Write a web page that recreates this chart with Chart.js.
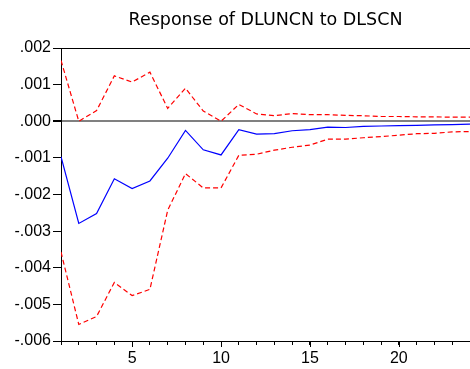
<!DOCTYPE html>
<html>
<head>
<meta charset="utf-8">
<script src="https://cdn.jsdelivr.net/npm/chart.js@4.4.1/dist/chart.umd.min.js"></script>
<style>
  html, body { margin: 0; padding: 0; background: #fff; overflow: hidden; }
  #wrap { width: 474px; height: 369px; }
</style>
</head>
<body>
<div id="wrap"><canvas id="c"></canvas></div>
<script>
const titleText = "Response of DLUNCN to DLSCN";
const periods = [1,2,3,4,5,6,7,8,9,10,11,12,13,14,15,16,17,18,19,20,21,22,23,24];
const response = [-0.00097,-0.00279,-0.00252,-0.00157,-0.00184,-0.00163,-0.00101,-0.00025,-0.00078,-0.00092,
                  -0.00023,-0.00035,-0.00034,-0.00026,-0.00023,-0.00016,-0.00017,-0.00014,-0.00013,-0.00012,
                  -0.00011,-0.00010,-0.00009,-0.00008];
const upperBand = [0.00166,0.00000,0.00029,0.00124,0.00107,0.00134,0.00035,0.00090,0.00028,0.00000,
                   0.00046,0.00020,0.00015,0.00021,0.00018,0.00018,0.00016,0.00015,0.00013,0.00013,
                   0.00012,0.00012,0.00011,0.00011];
const lowerBand = [-0.00357,-0.00555,-0.00533,-0.00440,-0.00476,-0.00459,-0.00243,-0.00143,-0.00182,-0.00182,
                   -0.00093,-0.00090,-0.00079,-0.00071,-0.00065,-0.00049,-0.00049,-0.00045,-0.00042,-0.00038,
                   -0.00034,-0.00033,-0.00029,-0.00028];
const yMin = -0.006, yMax = 0.002, yStep = 0.001;
const xMajor = [5,10,15,20];

function toXY(arr){ return arr.map((v,i)=>({x: periods[i], y: v})); }

function fmtY(value){
  const k = Math.round(value / yStep);
  const s = (Math.abs(k) * yStep).toFixed(3).replace(/^0\./, '.');
  return (k < 0 ? '-' : '') + s;
}

const framePlugin = {
  id: 'frame',
  afterDraw(chart){
    const {ctx, chartArea} = chart;
    const xs = chart.scales.x;
    ctx.save();
    ctx.strokeStyle = '#000';
    ctx.lineWidth = 1;
    ctx.beginPath();
    ctx.moveTo(chartArea.left, chartArea.top + 0.5);
    ctx.lineTo(chartArea.right + 5, chartArea.top + 0.5);
    ctx.stroke();
    xMajor.forEach(v => {
      const px = Math.round(xs.getPixelForValue(v)) + 0.5;
      ctx.beginPath();
      ctx.moveTo(px, chartArea.bottom);
      ctx.lineTo(px, chartArea.bottom + 6);
      ctx.stroke();
    });
    ctx.restore();
  }
};

new Chart(document.getElementById('c'), {
  type: 'line',
  data: {
    datasets: [
      { label: 'Response', data: toXY(response), borderColor: '#0000FF', borderWidth: 1.2,
        pointRadius: 0, fill: false, tension: 0 },
      { label: 'Upper', data: toXY(upperBand), borderColor: '#FF0000', borderWidth: 1.2,
        borderDash: [5,3], pointRadius: 0, fill: false, tension: 0 },
      { label: 'Lower', data: toXY(lowerBand), borderColor: '#FF0000', borderWidth: 1.2,
        borderDash: [5,3], pointRadius: 0, fill: false, tension: 0 }
    ]
  },
  options: {
    responsive: true,
    maintainAspectRatio: false,
    animation: false,
    layout: { padding: { left: 0, right: 2, top: 0, bottom: 0 } },
    plugins: {
      legend: { display: false },
      tooltip: { enabled: false },
      title: {
        display: true, text: titleText, fullSize: false,
        color: '#000',
        font: { family: 'DejaVu Sans', size: 17.5, weight: 'normal', lineHeight: 1.2 },
        padding: { top: 10, bottom: 17 }
      }
    },
    scales: {
      x: {
        type: 'linear', min: 1, max: 24,
        border: { display: true, color: '#000', width: 1 },
        grid: { drawOnChartArea: false, drawTicks: true, tickLength: 4, tickColor: '#000', color: '#000' },
        ticks: {
          stepSize: 1, autoSkip: false, maxRotation: 0, padding: 4,
          color: '#000',
          font: { family: 'Liberation Sans', size: 16 },
          callback: (v) => (v % 5 === 0 ? String(v) : '')
        },
        afterFit(scale){ scale.height = 28; }
      },
      y: {
        type: 'linear', min: yMin, max: yMax,
        border: { display: true, color: '#000', width: 1 },
        grid: {
          drawTicks: true, tickLength: 8, tickColor: '#000',
          color: (c) => (c.tick && Math.abs(c.tick.value) < 1e-9 ? '#808080' : 'rgba(0,0,0,0)'),
          lineWidth: (c) => (c.tick && Math.abs(c.tick.value) < 1e-9 ? 2 : 1)
        },
        ticks: {
          stepSize: yStep, padding: 2, color: '#000',
          font: { family: 'Liberation Sans', size: 16 },
          callback: (v) => fmtY(v)
        },
        afterFit(scale){ scale.width = 61; }
      }
    }
  },
  plugins: [framePlugin]
});
</script>
</body>
</html>
